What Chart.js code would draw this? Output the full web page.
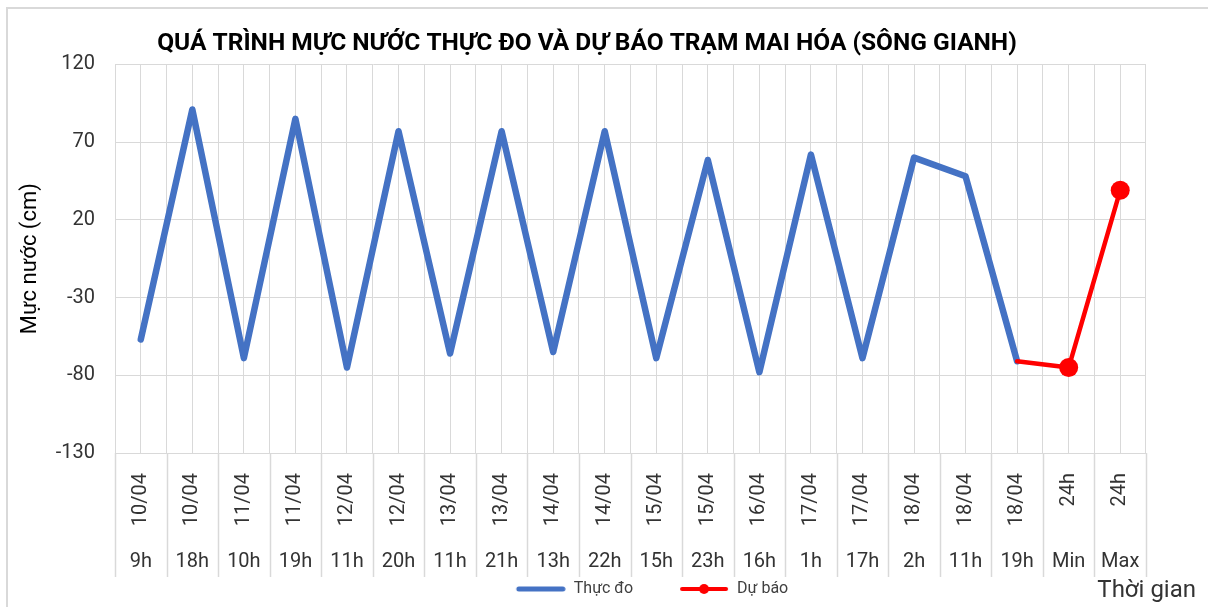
<!DOCTYPE html>
<html>
<head>
<meta charset="utf-8">
<script src="https://cdn.jsdelivr.net/npm/chart.js@4.4.1/dist/chart.umd.min.js"></script>
<style>
    html, body { margin: 0; padding: 0; background: #fff; overflow: hidden; }
    #wrap { position: relative; width: 1208px; height: 607px; }
    #khung { position: absolute; left: 6px; top: 7px; width: 1300px; height: 700px; border: 2px solid #d9d9d9; pointer-events: none; }
</style>
</head>
<body>
<div id="wrap">
    <canvas id="chartMucNuoc" width="1208" height="607"></canvas>
    <div id="khung"></div>
</div>
<script>
// nhãn trục hoành (2 tầng: ngày / giờ)
const ngay = ['10/04', '10/04', '11/04', '11/04', '12/04', '12/04', '13/04', '13/04', '14/04', '14/04',
    '15/04', '15/04', '16/04', '17/04', '17/04', '18/04', '18/04', '18/04', '24h', '24h'];
const gio = ['9h', '18h', '10h', '19h', '11h', '20h', '11h', '21h', '13h', '22h',
    '15h', '23h', '16h', '1h', '17h', '2h', '11h', '19h', 'Min', 'Max'];

// mực nước (cm)
const thucDo = [-57, 91, -69, 85, -75, 77, -66, 77, -65, 77,
    -69, 58.5, -78, 62, -69, 60, 48, -71, null, null];
const duBao = [null, null, null, null, null, null, null, null, null, null,
    null, null, null, null, null, null, null, -71, -75, 39];

const yTicks = [-130, -80, -30, 20, 70, 120];

const FONT = 'Roboto, "Liberation Sans", sans-serif';
const XANH = '#4472C4';
const DO = '#FF0000';
const LUOI = '#d9d9d9';
const O_CHU_THICH = 93; // bề rộng ô biểu tượng trong chú thích

// icon chú thích: đường kẻ nằm sát phải ô, có chấm cho dự báo
function iconChuThich(mau, day, coCham) {
    const c = document.createElement('canvas');
    c.width = O_CHU_THICH;
    c.height = 14;
    const g = c.getContext('2d');
    const x0 = O_CHU_THICH - 50;
    g.strokeStyle = mau;
    g.lineWidth = day;
    g.lineCap = 'round';
    g.beginPath();
    g.moveTo(x0 + 3, 7);
    g.lineTo(O_CHU_THICH - 3, 7);
    g.stroke();
    if (coCham) {
        g.fillStyle = mau;
        g.beginPath();
        g.arc(x0 + 25, 7, 5, 0, Math.PI * 2);
        g.fill();
    }
    return c;
}
const icons = [iconChuThich(XANH, 5, false), iconChuThich(DO, 4, true)];

// vạch ngăn giữa các nhãn dưới trục + chữ "Thời gian"
const vachNhan = {
    id: 'vachNhan',
    afterDraw(chart) {
        const { ctx, scales: { x } } = chart;
        ctx.save();
        ctx.strokeStyle = LUOI;
        ctx.lineWidth = 1.5;
        for (let i = 0; i <= ngay.length; i++) {
            const px = Math.round(x.getPixelForValue(i - 0.5)) + 0.5;
            ctx.beginPath();
            ctx.moveTo(px, x.top);
            ctx.lineTo(px, 577);
            ctx.stroke();
        }
        ctx.fillStyle = '#333';
        ctx.font = '24px ' + FONT;
        ctx.textAlign = 'right';
        ctx.textBaseline = 'alphabetic';
        ctx.fillText('Thời gian', 1196, 597);
        ctx.restore();
    }
};

new Chart(document.getElementById('chartMucNuoc'), {
    type: 'line',
    data: {
        labels: ngay,
        datasets: [{
            label: 'Thực đo',
            data: thucDo,
            borderColor: XANH,
            backgroundColor: XANH,
            borderWidth: 6.5,
            borderJoinStyle: 'round',
            borderCapStyle: 'round',
            pointRadius: 0,
            pointHoverRadius: 0,
            tension: 0,
            order: 1
        }, {
            label: 'Dự báo',
            data: duBao,
            borderColor: DO,
            backgroundColor: DO,
            borderWidth: 4.5,
            borderJoinStyle: 'round',
            borderCapStyle: 'round',
            pointRadius: ctx => ctx.dataIndex >= ngay.length - 2 ? 9.5 : 0,
            pointBackgroundColor: DO,
            pointBorderWidth: 0,
            tension: 0,
            order: 0
        }]
    },
    options: {
        responsive: false,
        animation: false,
        layout: { padding: { left: 0, right: 34, top: 0, bottom: 0 } },
        plugins: {
            title: {
                display: true,
                text: 'QUÁ TRÌNH MỰC NƯỚC THỰC ĐO VÀ DỰ BÁO TRẠM MAI HÓA (SÔNG GIANH)',
                color: '#000',
                font: { family: FONT, size: 24.5, weight: 'bold', lineHeight: 1.2 },
                padding: { top: 29, bottom: 6 }
            },
            legend: {
                position: 'bottom',
                fullSize: false,
                labels: {
                    usePointStyle: true,
                    pointStyleWidth: O_CHU_THICH,
                    boxHeight: 14,
                    padding: 3,
                    color: '#404040',
                    font: { family: FONT, size: 16 },
                    generateLabels: chart => chart.data.datasets.map((ds, i) => ({
                        text: ds.label,
                        datasetIndex: i,
                        fontColor: '#404040',
                        pointStyle: icons[i],
                        hidden: false,
                        lineWidth: 0
                    }))
                },
                onClick: () => {}
            },
            tooltip: { enabled: false }
        },
        scales: {
            x: {
                type: 'category',
                labels: ngay,
                offset: true,
                position: 'bottom',
                weight: 0,
                grid: { offset: true, color: LUOI, lineWidth: 1, drawTicks: false },
                border: { color: LUOI, width: 1 },
                ticks: {
                    autoSkip: false,
                    minRotation: 90,
                    maxRotation: 90,
                    padding: 20,
                    color: '#333',
                    font: { family: FONT, size: 20 }
                },
                afterFit: s => { s.height = 88; }
            },
            x2: {
                type: 'category',
                labels: gio,
                offset: true,
                position: 'bottom',
                weight: 1,
                grid: { offset: false, color: LUOI, lineWidth: 1, drawTicks: false },
                border: { display: false },
                ticks: {
                    autoSkip: false,
                    maxRotation: 0,
                    padding: 9,
                    color: '#333',
                    font: { family: FONT, size: 20 }
                },
                afterFit: s => { s.height = 37; }
            },
            y: {
                min: yTicks[0],
                max: yTicks[yTicks.length - 1],
                afterBuildTicks: s => { s.ticks = yTicks.map(v => ({ value: v })); },
                grid: { color: LUOI, lineWidth: 1, drawTicks: false },
                border: { color: LUOI, width: 1 },
                ticks: {
                    padding: 20,
                    color: '#333',
                    font: { family: FONT, size: 20 }
                },
                title: {
                    display: true,
                    text: 'Mực nước (cm)',
                    color: '#000',
                    font: { family: FONT, size: 22, lineHeight: 1.2 },
                    padding: { top: 17, bottom: 0 }
                },
                afterFit: s => { s.width = 115; }
            },
            // khoảng trống bên phải vùng vẽ (để tiêu đề lệch như bản gốc)
            yPhai: {
                position: 'right',
                display: true,
                ticks: { display: false },
                grid: { display: false, drawTicks: false },
                border: { display: false },
                afterFit: s => { s.width = 28; }
            }
        }
    },
    plugins: [vachNhan]
});
</script>
</body>
</html>
